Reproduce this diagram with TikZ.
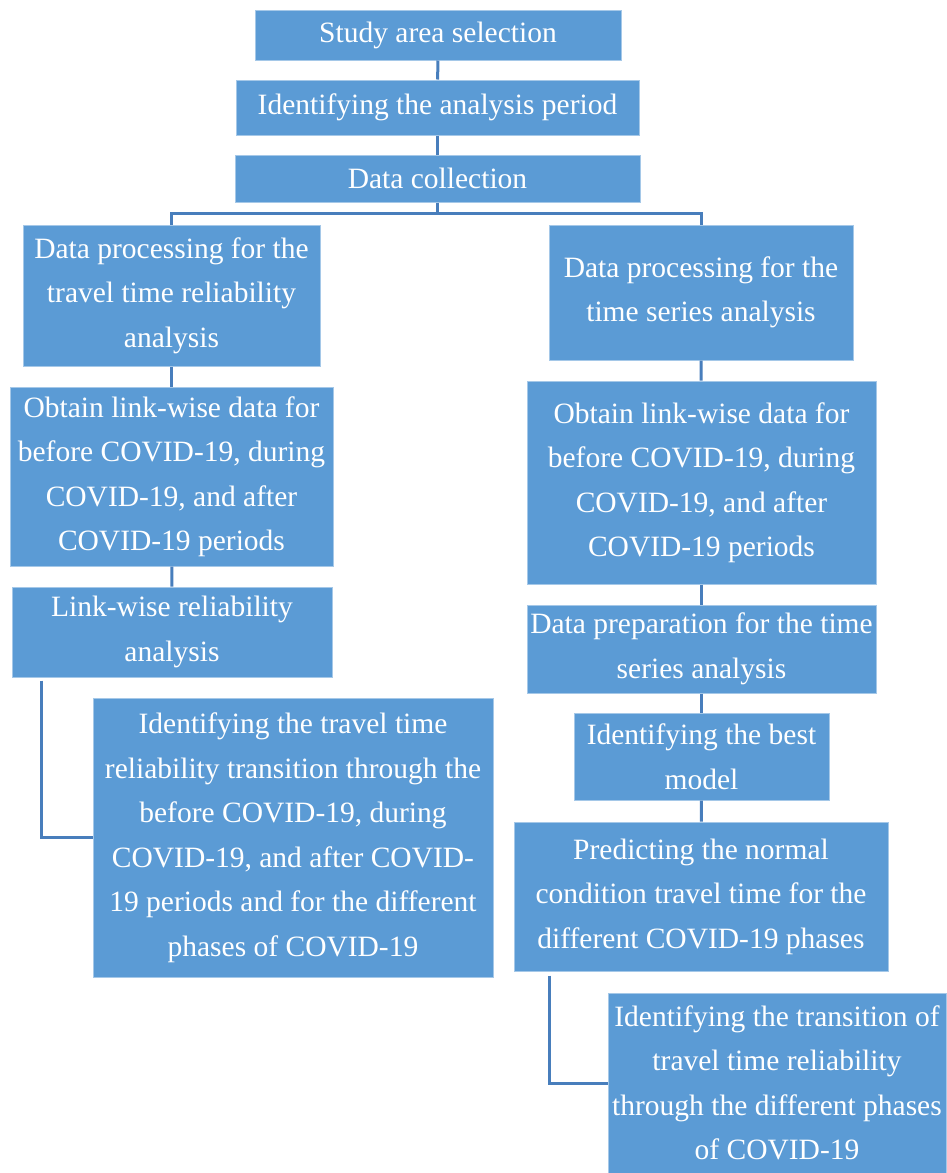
\documentclass[tikz,border=0pt]{standalone}
\usepackage{fontspec}
\setmainfont{Liberation Serif}
\usetikzlibrary{positioning}
\definecolor{flowblue}{RGB}{91,155,213}
\definecolor{flowedge}{RGB}{72,126,188}
\tikzset{
  flowbox/.style={rectangle, fill=flowblue, draw=flowblue!55!white, line width=1pt,
                  text=white, align=center, inner sep=0pt,
                  font=\fontsize{29.5}{44.5}\selectfont},
  flowline/.style={flowedge, line width=3pt},
}
\begin{document}
\begin{tikzpicture}[x=1pt, y=-1pt]
  \useasboundingbox (0,0) rectangle (947,1173);
  % top of the chart
  \node[flowbox, minimum width=366pt, minimum height=50pt] (study) at (438,35) {Study area selection};
  \node[flowbox, minimum width=403pt, minimum height=55pt] (period) at (437.5,107.5) {Identifying the analysis period};
  \node[flowbox, minimum width=405pt, minimum height=47pt] (coll) at (437.5,178.5) {Data collection};
  % left branch
  \node[flowbox, minimum width=297pt, minimum height=141pt] (lproc) at (171.5,295.5) {Data processing for the\\travel time reliability\\analysis};
  \node[flowbox, minimum width=323pt, minimum height=179pt] (llink) at (171.5,476.5) {Obtain link-wise data for\\before COVID-19, during\\COVID-19, and after\\COVID-19 periods};
  \node[flowbox, minimum width=320pt, minimum height=90pt] (lrel) at (172,632) {Link-wise reliability\\analysis};
  \node[flowbox, minimum width=400pt, minimum height=279pt] (lfin) at (293,837.5) {Identifying the travel time\\reliability transition through the\\before COVID-19, during\\COVID-19, and after COVID-\\19 periods and for the different\\phases of COVID-19};
  % right branch
  \node[flowbox, minimum width=304pt, minimum height=135pt] (rproc) at (701,292.5) {Data processing for the\\time series analysis};
  \node[flowbox, minimum width=349pt, minimum height=203pt] (rlink) at (701.5,482.5) {Obtain link-wise data for\\before COVID-19, during\\COVID-19, and after\\COVID-19 periods};
  \node[flowbox, minimum width=349pt, minimum height=88pt] (rprep) at (701.5,649) {Data preparation for the time\\series analysis};
  \node[flowbox, minimum width=255pt, minimum height=87pt] (rbest) at (701.5,756.5) {Identifying the best\\model};
  \node[flowbox, minimum width=374pt, minimum height=149pt] (rpred) at (701,896.5) {Predicting the normal\\condition travel time for the\\different COVID-19 phases};
  \node[flowbox, minimum width=338pt, minimum height=180pt] (rfin) at (777,1083) {Identifying the transition of\\travel time reliability\\through the different phases\\of COVID-19};
  % connectors
  \draw[flowline] (study) -- (period);
  \draw[flowline] (period) -- (coll);
  \draw[flowline] (coll.south) -- ++(0,11) -| (lproc.north);
  \draw[flowline] (coll.south) ++(0,11) -| (rproc.north);
  \draw[flowline] (lproc) -- (llink);
  \draw[flowline] (llink) -- (lrel);
  \draw[flowline] (lrel.south west) ++(30,3) |- (lfin.west);
  \draw[flowline] (rproc) -- (rlink);
  \draw[flowline] (rlink) -- (rprep);
  \draw[flowline] (rprep) -- (rbest);
  \draw[flowline] (rbest) -- (rpred);
  \draw[flowline] (rpred.south west) ++(36,4) |- (rfin.west);
\end{tikzpicture}
\end{document}
